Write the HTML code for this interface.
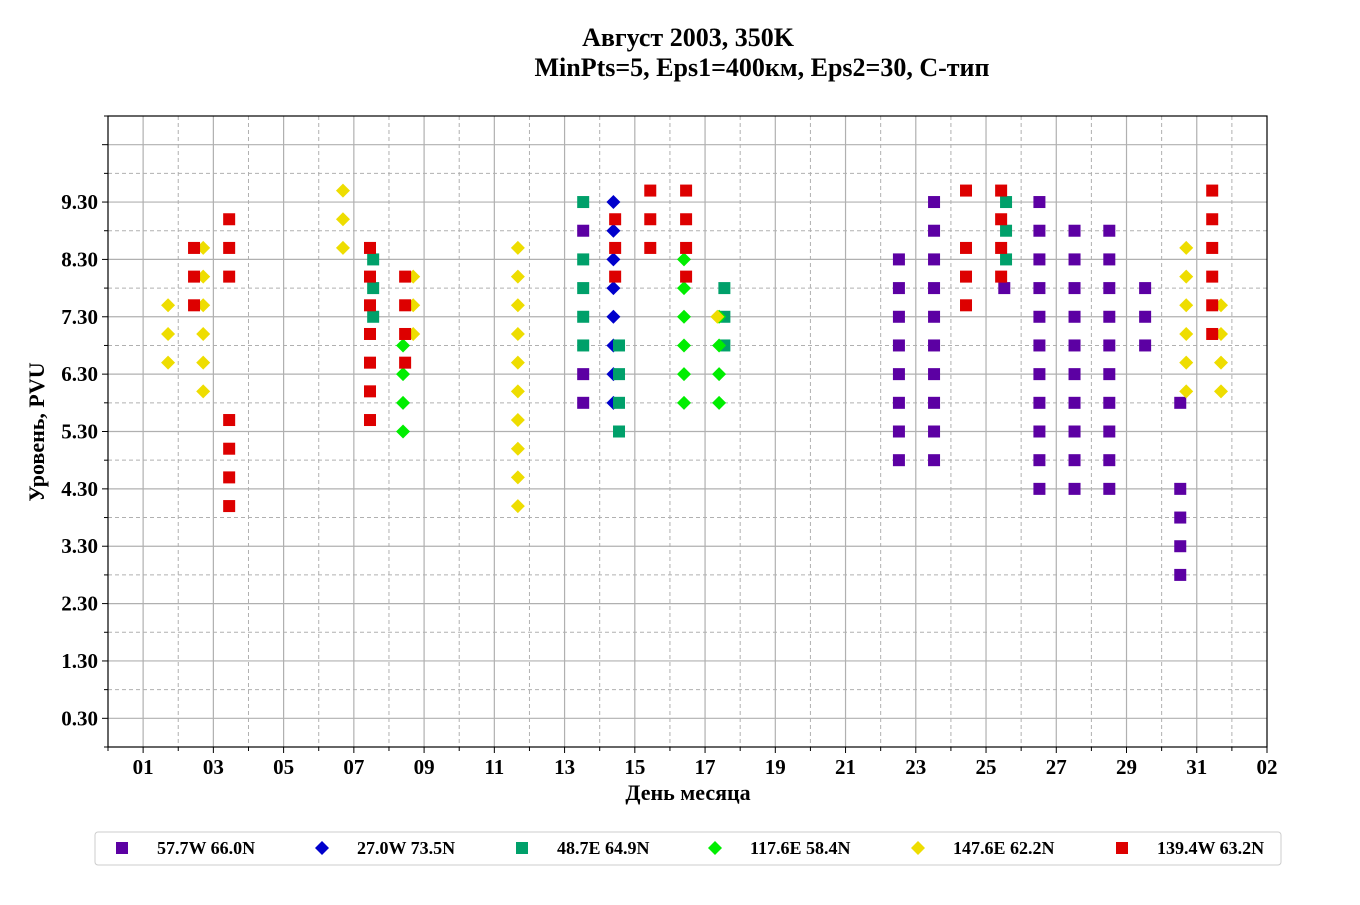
<!DOCTYPE html>
<html><head><meta charset="utf-8">
<style>
body{margin:0;background:#fff;}
svg text{font-family:"Liberation Serif",serif;font-weight:bold;fill:#000;}
</style></head>
<body>
<svg id="chart" width="1360" height="900" xmlns="http://www.w3.org/2000/svg">
<rect width="1360" height="900" fill="#fff"/>
<text x="688" y="46" font-size="26" text-anchor="middle">Август 2003, 350K</text>
<text x="762" y="76" font-size="26" text-anchor="middle">MinPts=5, Eps1=400км, Eps2=30, С-тип</text>
<g id="grid"></g>
<g id="marks"></g>
<g id="axes"></g>
<text x="688" y="800" font-size="22" text-anchor="middle">День месяца</text>
<text transform="translate(44,432) rotate(-90)" font-size="22" text-anchor="middle">Уровень, PVU</text>
<g id="legend"></g>
</svg>
<script>
const seriesNames=["57.7W 66.0N","27.0W 73.5N","48.7E 64.9N","117.6E 58.4N","147.6E 62.2N","139.4W 63.2N"];
const seriesColors=["#5c00a3","#0000cc","#00a06a","#00ee00","#eedd00","#dd0000"];
const seriesShapes=["square","diamond","square","diamond","diamond","square"];
const xTickLabels=["01","03","05","07","09","11","13","15","17","19","21","23","25","27","29","31","02"];
const yTickLabels=["0.30","1.30","2.30","3.30","4.30","5.30","6.30","7.30","8.30","9.30"];
// each series: columns of [day, [levels]]
const s0=[[13.53,[8.8,6.3,5.8]],[22.52,[8.3,7.8,7.3,6.8,6.3,5.8,5.3,4.8]],[23.52,[9.3,8.8,8.3,7.8,7.3,6.8,6.3,5.8,5.3,4.8]],[25.52,[7.8]],[26.52,[9.3,8.8,8.3,7.8,7.3,6.8,6.3,5.8,5.3,4.8,4.3]],[27.52,[8.8,8.3,7.8,7.3,6.8,6.3,5.8,5.3,4.8,4.3]],[28.51,[8.8,8.3,7.8,7.3,6.8,6.3,5.8,5.3,4.8,4.3]],[29.53,[7.8,7.3,6.8]],[30.53,[5.8,4.3,3.8,3.3,2.8]]];
const s1=[[14.39,[9.3,8.8,8.3,7.8,7.3,6.8,6.3,5.8]]];
const s2=[[7.55,[8.3,7.8,7.3]],[13.53,[9.3,8.3,7.8,7.3,6.8]],[14.55,[6.8,6.3,5.8,5.3]],[17.55,[7.8,7.3,6.8]],[25.57,[9.3,8.8,8.3]]];
const s3=[[8.40,[6.8,6.3,5.8,5.3]],[16.40,[8.3,7.8,7.3,6.8,6.3,5.8]],[17.40,[7.3,6.8,6.3,5.8]]];
const s4=[[1.71,[7.5,7.0,6.5]],[2.71,[8.5,8.0,7.5,7.0,6.5,6.0]],[6.69,[9.5,9.0,8.5]],[8.69,[8.0,7.5,7.0]],[11.67,[8.5,8.0,7.5,7.0,6.5,6.0,5.5,5.0,4.5,4.0]],[17.35,[7.3]],[30.70,[8.5,8.0,7.5,7.0,6.5,6.0]],[31.69,[7.5,7.0,6.5,6.0]]];
const s5=[[2.45,[8.5,8.0,7.5]],[3.45,[9.0,8.5,8.0,5.5,5.0,4.5,4.0]],[7.46,[8.5,8.0,7.5,7.0,6.5,6.0,5.5]],[8.46,[8.0,7.5,7.0,6.5]],[14.44,[9.0,8.5,8.0]],[15.44,[9.5,9.0,8.5]],[16.46,[9.5,9.0,8.5,8.0]],[24.43,[9.5,8.5,8.0,7.5]],[25.43,[9.5,9.0,8.5,8.0]],[31.44,[9.5,9.0,8.5,8.0,7.5,7.0]]];
const allSeries=[s0,s1,s2,s3,s4,s5];

const NS="http://www.w3.org/2000/svg";
const L=108,R=1267,T=116,B=747,xMin=0,xMax=33,yMin=-0.2,yMax=10.8;
const xs=d=>L+(d-xMin)/(xMax-xMin)*(R-L);
const ys=v=>B-(v-yMin)/(yMax-yMin)*(B-T);
function mk(tag,attrs,parent){const e=document.createElementNS(NS,tag);for(const k in attrs)e.setAttribute(k,attrs[k]);parent.appendChild(e);return e;}
const grid=document.getElementById('grid'),axes=document.getElementById('axes'),marks=document.getElementById('marks');
// x grid & ticks
for(let d=1;d<=32;d++){
  const x=xs(d),major=d%2===1;
  const g=mk('line',{x1:x,x2:x,y1:T,y2:B,stroke:'#b0b0b0','stroke-width':major?1.2:1,'stroke-dasharray':major?'':'4,3'},grid);
  
  
}
for(let d=0;d<=33;d++){const t=mk('line',{x1:xs(d),x2:xs(d),y1:B,y2:B+(d%2===1?6:4),stroke:'#000'},axes);}
xTickLabels.forEach((lab,i)=>{
  const t=mk('text',{x:xs(1+2*i),y:B+27,'font-size':21,'text-anchor':'middle'},axes);
  t.textContent=lab;
  
  
});
// y grid
for(let k=0;k<=21;k++){
  const v=0.3+k*0.5;if(v>yMax)break;
  const y=ys(v),major=k%2===0;
  const g=mk('line',{x1:L,x2:R,y1:y,y2:y,stroke:'#b0b0b0','stroke-width':major?1.2:1,'stroke-dasharray':major?'':'4,3'},grid);
  
  
}
for(let k=0;k<=22;k++){const v=-0.2+k*0.5;const y=ys(v);mk('line',{x1:L-(k%2===1?6:4),x2:L,y1:y,y2:y,stroke:'#000'},axes);}
yTickLabels.forEach(lab=>{
  const t=mk('text',{x:L-10,y:ys(parseFloat(lab))+7,'font-size':21,'text-anchor':'end'},axes);
  t.textContent=lab;
  
  
});
mk('rect',{x:L,y:T,width:R-L,height:B-T,fill:'none',stroke:'#000','stroke-width':1.2},axes);
function marker(shape,cx,cy,color,parent){
  if(shape==='square')return mk('rect',{x:cx-6,y:cy-6,width:12,height:12,fill:color},parent);
  return mk('polygon',{points:`${cx},${cy-7} ${cx+7},${cy} ${cx},${cy+7} ${cx-7},${cy}`,fill:color},parent);
}
allSeries.forEach((ser,si)=>{
  ser.forEach(col=>{
    col[1].forEach(v=>{
      const m=marker(seriesShapes[si],xs(col[0]),ys(v),seriesColors[si],marks);
      
      
    });
  });
});
// legend
const lg=document.getElementById('legend');
const lr=mk('rect',{x:95,y:832,width:1186,height:33,rx:3,fill:'#fff',stroke:'#cccccc'},lg);


const legX=[122,322,522,715,918,1122];
seriesNames.forEach((n,i)=>{
  const m=marker(seriesShapes[i],legX[i],848,seriesColors[i],lg);
  
  
  const t=mk('text',{x:legX[i]+35,y:854,'font-size':18},lg);
  t.textContent=n;
  
  
});
</script>
</body></html>
